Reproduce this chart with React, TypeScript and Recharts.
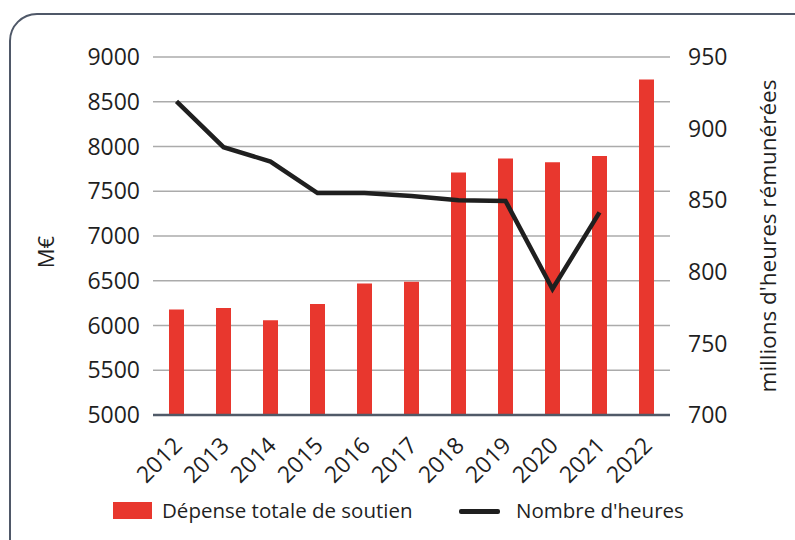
import React from "react";
import {
  Bar,
  CartesianGrid,
  ComposedChart,
  Legend,
  Line,
  XAxis,
  YAxis,
} from "recharts";

const RED = "#e8372e";
const INK = "#1f1f1f";
const GRID = "#ababab";
const BASE = "#505a68";
const FONT = "'Open Sans', sans-serif";

const years = ["2012", "2013", "2014", "2015", "2016", "2017", "2018", "2019", "2020", "2021", "2022"];
const depense = [6180, 6195, 6060, 6240, 6470, 6490, 7710, 7865, 7825, 7895, 8750];
const heures: (number | null)[] = [919, 887, 877, 855, 855, 853, 850, 849.5, 788, 841.5, null];

const leftTicks = [5000, 5500, 6000, 6500, 7000, 7500, 8000, 8500, 9000];
const rightTicks = [700, 750, 800, 850, 900, 950];

const data = years.map((year, i) => ({
  year,
  depense: depense[i],
  heures: heures[i],
}));

function YearTick(props: { x?: number; y?: number; payload?: { value: string } }) {
  const x = (props.x ?? 0) + 7;
  const y = (props.y ?? 0) + 24;
  return (
    <text
      x={x}
      y={y}
      transform={`rotate(-45 ${x} ${y})`}
      textAnchor="end"
      fill={INK}
      fontSize={23}
      fontFamily={FONT}
    >
      {props.payload?.value}
    </text>
  );
}

function LegendBox() {
  return (
    <div style={{ position: "relative", width: 795, height: 30, fontFamily: FONT, fontSize: 20.5, color: INK }}>
      <div style={{ position: "absolute", left: 113, top: 5, width: 39, height: 17, background: RED }} />
      <span style={{ position: "absolute", left: 162, top: -1, whiteSpace: "nowrap" }}>Dépense totale de soutien</span>
      <div style={{ position: "absolute", left: 459, top: 12, width: 41, height: 4.5, borderRadius: 2, background: INK }} />
      <span style={{ position: "absolute", left: 516, top: -1, whiteSpace: "nowrap" }}>Nombre d'heures</span>
    </div>
  );
}

export default function App() {
  return (
    <div style={{ position: "fixed", left: 0, top: 0, width: 795, height: 540, overflow: "hidden", background: "#fff" }}>
      <div
        style={{
          position: "absolute",
          left: 9,
          top: 13,
          width: 840,
          height: 560,
          border: "2.5px solid #4f5868",
          borderRadius: 28,
          boxSizing: "border-box",
        }}
      />
      <ComposedChart
        width={795}
        height={540}
        data={data}
        margin={{ top: 57, right: 15, bottom: 65, left: 73 }}
        style={{ position: "absolute", left: 0, top: 0 }}
      >
        <CartesianGrid yAxisId="left" vertical={false} stroke={GRID} strokeWidth={1.5} />
        <XAxis
          dataKey="year"
          height={60}
          interval={0}
          tickLine={false}
          axisLine={{ stroke: BASE, strokeWidth: 2.5 }}
          tick={<YearTick />}
        />
        <YAxis
          yAxisId="left"
          width={80}
          domain={[5000, 9000]}
          ticks={leftTicks}
          axisLine={false}
          tickLine={false}
          tickSize={0}
          tickMargin={13}
          tick={{ fill: INK, fontSize: 23, fontFamily: FONT }}
          label={{
            content: () => (
              <text x={45} y={252} transform="rotate(-90 45 252)" textAnchor="middle" dominantBaseline="central" fill={INK} fontSize={22} fontFamily={FONT}>
                M€
              </text>
            ),
          }}
        />
        <YAxis
          yAxisId="right"
          orientation="right"
          width={110}
          domain={[700, 950]}
          ticks={rightTicks}
          axisLine={false}
          tickLine={false}
          tickSize={0}
          tickMargin={18}
          tick={{ fill: INK, fontSize: 23, fontFamily: FONT, textAnchor: "start" }}
          label={{
            content: () => (
              <text x={767} y={236} transform="rotate(-90 767 236)" textAnchor="middle" dominantBaseline="central" fill={INK} fontSize={22.5} fontFamily={FONT}>
                millions d'heures rémunérées
              </text>
            ),
          }}
        />
        <Legend
          layout="horizontal"
          verticalAlign="middle"
          align="center"
          wrapperStyle={{ top: 497, left: 0, width: 795 }}
          content={() => <LegendBox />}
        />
        <Bar yAxisId="left" dataKey="depense" name="Dépense totale de soutien" fill={RED} barSize={15} isAnimationActive={false} />
        <Line
          yAxisId="right"
          dataKey="heures"
          name="Nombre d'heures"
          type="linear"
          stroke={INK}
          strokeWidth={4.5}
          dot={false}
          activeDot={false}
          isAnimationActive={false}
        />
      </ComposedChart>
    </div>
  );
}
